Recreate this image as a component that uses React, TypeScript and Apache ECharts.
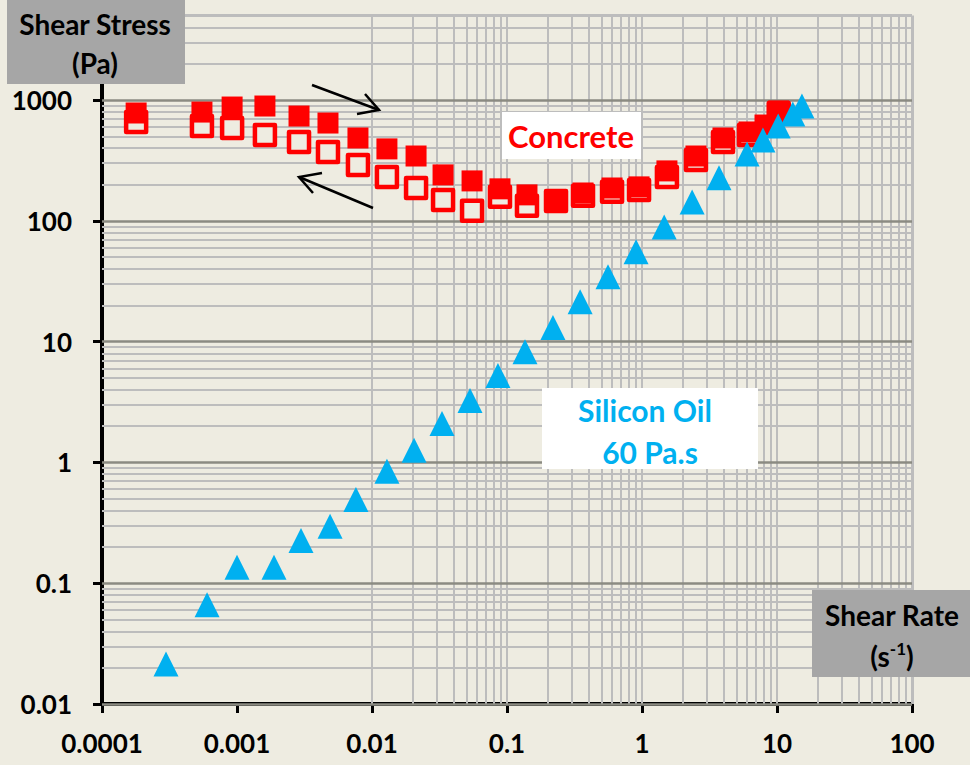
import React, { useEffect, useRef } from 'react';
import * as echarts from 'echarts';

// Tick labels
const xTickLabels = ['0.0001', '0.001', '0.01', '0.1', '1', '10', '100'];
const yTickLabels = ['0.01', '0.1', '1', '10', '100', '1000'];

// Concrete, increasing shear rate (filled squares)
const concreteUpRate = [1.79e-4, 5.5e-4, 9.2e-4, 1.61e-3, 2.88e-3, 4.72e-3, 7.87e-3, 0.0129, 0.0212, 0.0336, 0.0551, 0.0887, 0.1406, 0.2307, 0.3656, 0.6, 0.951, 1.53, 2.51, 3.98, 6.2, 8.15, 10.3];
const concreteUpStress = [781, 795, 875, 892, 737, 645, 485, 394, 344, 240, 214, 184, 164, 149, 170, 187, 191, 259, 344, 485, 544, 621, 811];

// Concrete, decreasing shear rate (open squares)
const concreteDownRate = [1.79e-4, 5.5e-4, 9.2e-4, 1.61e-3, 2.88e-3, 4.72e-3, 7.87e-3, 0.0129, 0.0212, 0.0336, 0.0551, 0.0887, 0.1406, 0.2307, 0.3656, 0.6, 0.951, 1.53, 2.51, 3.98, 6.2, 10.3];
const concreteDownStress = [658, 610, 587, 514, 450, 372, 290, 231, 187, 149, 121, 158, 133, 146, 161, 174, 180, 231, 319, 450, 514, 781];

// Silicon oil 60 Pa.s (triangles)
const oilRate = [2.98e-4, 6.0e-4, 1.0e-3, 1.88e-3, 2.98e-3, 4.89e-3, 7.6e-3, 0.0129, 0.0205, 0.033, 0.0532, 0.0857, 0.136, 0.219, 0.348, 0.56, 0.904, 1.46, 2.35, 3.72, 6.0, 7.87, 10.2, 13.1, 15.3];
const oilStress = [0.0214, 0.0664, 0.1355, 0.1355, 0.226, 0.296, 0.494, 0.843, 1.26, 2.1, 3.25, 5.24, 8.26, 13.1, 21.4, 34.4, 55.4, 89, 143, 227, 358, 467, 610, 766, 892];

const BG = '#EEECE1';
const RED = '#FF0000';
const BLUE = '#00B0F0';
const GRIDC = '#bdbdbd';
const MAJORC = '#8b8b82';
const FONT = 'Lato';

const zip = (a: number[], b: number[]) => a.map((v, i) => [v, b[i]]);

const labelFmt = (labels: string[]) => (v: number) => {
  const l = labels.find((s) => Math.abs(Math.log10(parseFloat(s)) - Math.log10(v)) < 1e-6);
  return l ?? '';
};

const logLines = (lo: number, hi: number, max: number) => {
  const out: { v: number; major: boolean }[] = [];
  for (let e = lo; e <= hi; e++) {
    for (let k = 1; k <= 9; k++) {
      const v = k * Math.pow(10, e);
      if (v <= max * 1.000001) out.push({ v, major: k === 1 });
    }
  }
  return out;
};

export default function App() {
  const ref = useRef<HTMLDivElement>(null);
  useEffect(() => {
    document.body.style.margin = '0';
    const chart = echarts.init(ref.current!, null, { renderer: 'svg' });
    const xl = logLines(-4, 2, 100);
    const yl = logLines(-2, 3, 5000);
    const gridData: any[] = [];
    xl.forEach((l) => gridData.push({ xAxis: l.v, lineStyle: { color: GRIDC, width: l.v >= 99 ? 3 : 2, type: 'solid' } }));
    yl.filter((l) => !l.major).forEach((l) =>
      gridData.push({ yAxis: l.v, lineStyle: { color: GRIDC, width: l.v >= 4999 ? 3 : 2, type: 'solid' } })
    );
    yl.filter((l) => l.major).forEach((l) => gridData.push({ yAxis: l.v, lineStyle: { color: MAJORC, width: 2.5, type: 'solid' } }));

    const textStyle = (text: string, x: number, y: number, size: number, color: string) => ({
      type: 'text',
      x,
      y,
      z: 101,
      style: { text, fill: color, fontSize: size, fontWeight: 'bold', fontFamily: FONT, align: 'center', verticalAlign: 'middle' },
    });

    const option: any = {
      animation: false,
      backgroundColor: BG,
      grid: { left: 102, right: 58, top: 15.6, bottom: 61, containLabel: false },
      xAxis: {
        type: 'log',
        logBase: 10,
        min: 1e-4,
        max: 100,
        axisLine: { onZero: false, lineStyle: { color: '#000', width: 4 } },
        axisTick: { show: true, inside: false, length: 9, lineStyle: { color: '#000', width: 3 } },
        axisLabel: { formatter: labelFmt(xTickLabels), fontFamily: FONT, fontWeight: 'bold', fontSize: 26, color: '#000', margin: 26 },
        splitLine: { show: false },
        minorTick: { show: false },
      },
      yAxis: {
        type: 'log',
        logBase: 10,
        min: 0.01,
        max: 5000,
        axisLine: { onZero: false, lineStyle: { color: '#000', width: 4 } },
        axisTick: { show: true, inside: false, length: 9, lineStyle: { color: '#000', width: 3 } },
        axisLabel: { formatter: labelFmt(yTickLabels), fontFamily: FONT, fontWeight: 'bold', fontSize: 26, color: '#000', margin: 30 },
        splitLine: { show: false },
        minorTick: { show: false },
      },
      series: [
        {
          type: 'scatter',
          data: [],
          silent: true,
          z: 1,
          markLine: { z: 1, silent: true, symbol: ['none', 'none'], label: { show: false }, animation: false, data: gridData },
        },
        {
          type: 'scatter',
          name: 'Concrete (decreasing)',
          data: zip(concreteDownRate, concreteDownStress),
          symbol: 'rect',
          symbolSize: 20,
          itemStyle: { color: BG, borderColor: RED, borderWidth: 4.5, borderJoin: 'round', opacity: 1 },
          z: 2,
        },
        {
          type: 'scatter',
          name: 'Concrete (increasing)',
          data: zip(concreteUpRate, concreteUpStress),
          symbol: 'rect',
          symbolSize: 21,
          itemStyle: { color: RED, opacity: 1 },
          z: 3,
        },
        {
          type: 'scatter',
          name: 'Silicon Oil',
          data: zip(oilRate, oilStress),
          symbol: 'triangle',
          symbolSize: 25,
          itemStyle: { color: BLUE, opacity: 1 },
          z: 4,
        },
      ],
      graphic: [
        { type: 'rect', z: 100, shape: { x: 7, y: 0, width: 178, height: 84 }, style: { fill: '#A6A6A6' } },
        textStyle('Shear Stress', 95, 24, 28, '#000'),
        textStyle('(Pa)', 95, 63, 28, '#000'),
        { type: 'rect', z: 100, shape: { x: 812, y: 590, width: 160, height: 87 }, style: { fill: '#A6A6A6' } },
        textStyle('Shear Rate', 892, 615, 28, '#000'),
        {
          type: 'text',
          x: 892,
          y: 656,
          z: 101,
          style: {
            text: '{a|(s}{s|-1}{a|)}',
            align: 'center',
            verticalAlign: 'middle',
            rich: {
              a: { fontSize: 28, fontWeight: 'bold', fontFamily: FONT, fill: '#000', lineHeight: 32 },
              s: { fontSize: 17, fontWeight: 'bold', fontFamily: FONT, fill: '#000', lineHeight: 17, verticalAlign: 'top' },
            },
          },
        },
        { type: 'rect', z: 100, shape: { x: 502, y: 112, width: 139, height: 47 }, style: { fill: '#fff' } },
        textStyle('Concrete', 571, 136, 31, RED),
        { type: 'rect', z: 100, shape: { x: 542, y: 388, width: 216, height: 81 }, style: { fill: '#fff' } },
        textStyle('Silicon Oil', 645, 410, 30, BLUE),
        textStyle('60 Pa.s', 650, 452, 30, BLUE),
        { type: 'polyline', z: 100, shape: { points: [[312, 85], [379, 110]] }, style: { stroke: '#000', lineWidth: 2.5, fill: null } },
        { type: 'polyline', z: 100, shape: { points: [[365, 94], [379, 110], [357, 114]] }, style: { stroke: '#000', lineWidth: 2.5, fill: null } },
        { type: 'polyline', z: 100, shape: { points: [[373, 208], [299, 177]] }, style: { stroke: '#000', lineWidth: 2.5, fill: null } },
        { type: 'polyline', z: 100, shape: { points: [[322, 173], [299, 177], [313, 193]] }, style: { stroke: '#000', lineWidth: 2.5, fill: null } },
      ],
    };
    chart.setOption(option);
    return () => chart.dispose();
  }, []);
  return (
    <div
      ref={ref}
      style={{ position: 'fixed', left: 0, top: 0, width: 970, height: 765, background: BG }}
    />
  );
}
